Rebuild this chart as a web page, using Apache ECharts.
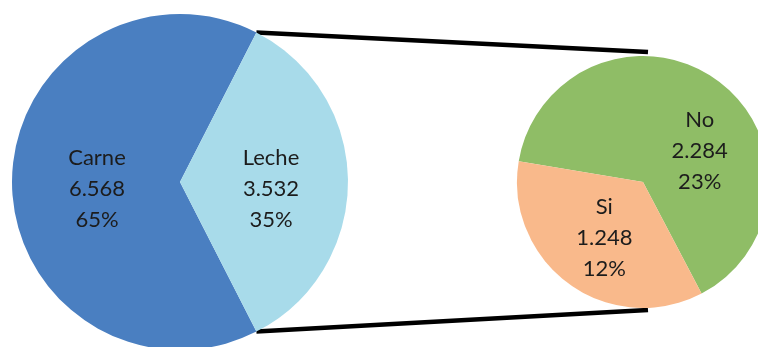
<!DOCTYPE html>
<html><head><meta charset="utf-8">
<script src="https://cdn.jsdelivr.net/npm/echarts@6/dist/echarts.min.js"></script>
<style>html,body{margin:0;padding:0;background:#fff}#c{width:758px;height:347px}</style>
</head><body><div id="c"></div>
<script>
var mainCategories = ['Carne', 'Leche'];
var mainValues = [6568, 3532];
var subCategories = ['No', 'Si'];
var subValues = [2284, 1248];
var mainColors = ['#4A7FC1', '#A8DBEA'];
var subColors = ['#8FBD66', '#F9B98B'];

var total = mainValues.reduce(function(a,b){return a+b;},0);
function fmtNum(v){ return String(v).replace(/\B(?=(\d{3})+(?!\d))/g, '.'); }

// label nudges (layout only): [dx, dy]
var nudge = {Carne:[8,7], Leche:[8,7], No:[36,22], Si:[0,2]};
function fmtLabel(p){
  var dy = nudge[p.name][1];
  var sp = '{s' + dy + '| }';
  return sp + '\n{t|' + p.name + '}\n{t|' + fmtNum(p.value) + '}\n{t|' + Math.round(p.value/total*100) + '%}';
}

var C1 = [180, 182], R1 = 168;
var C2 = [643, 182], R2 = 126;
var halfLeche = 360 * mainValues[1] / total / 2;
var siEndClock = 279.5;

var rich = {t:{fontFamily:'Lato', fontSize:22, lineHeight:31, color:'#1c1c1c'}};
Object.keys(nudge).forEach(function(k){ var h = nudge[k][1]*2; rich['s'+nudge[k][1]] = {fontSize:1, lineHeight:h, height:h}; });

var chart = echarts.init(document.getElementById('c'), null, {renderer:'canvas'});
var labelStyle = {show:true, position:'inside', formatter: fmtLabel, rich: rich, color:'#1c1c1c'};

var rad = function(d){return d*Math.PI/180;};
var topL = [C1[0] + R1*Math.sin(rad(90-halfLeche)), C1[1] - R1*Math.cos(rad(90-halfLeche))];
var botL = [C1[0] + R1*Math.sin(rad(90+halfLeche)), C1[1] - R1*Math.cos(rad(90+halfLeche))];
var topR = [C2[0] + 5, C2[1] - R2 - 4];
var botR = [C2[0] + 5, C2[1] + R2 + 2];

function mk(cats, vals, cols){
  return cats.map(function(n,i){return {name:n, value:vals[i], itemStyle:{color:cols[i]}, label:{padding:[0,0,0,nudge[n][0]]}};});
}

chart.setOption({
  animation:false,
  series:[
    {type:'pie', center:C1, radius:R1, startAngle: 360 - halfLeche, clockwise:true,
     avoidLabelOverlap:false, labelLine:{show:false}, label:labelStyle,
     data: mk(mainCategories, mainValues, mainColors)},
    {type:'pie', center:C2, radius:R2, startAngle: 90 - siEndClock + 360, clockwise:true,
     avoidLabelOverlap:false, labelLine:{show:false}, label:labelStyle,
     data: mk(subCategories, subValues, subColors)}
  ],
  graphic:[
    {type:'line', shape:{x1:topL[0], y1:topL[1], x2:topR[0], y2:topR[1]}, style:{stroke:'#000', lineWidth:4.5}, z:-1},
    {type:'line', shape:{x1:botL[0], y1:botL[1], x2:botR[0], y2:botR[1]}, style:{stroke:'#000', lineWidth:4.5}, z:-1}
  ]
});
</script></body></html>
